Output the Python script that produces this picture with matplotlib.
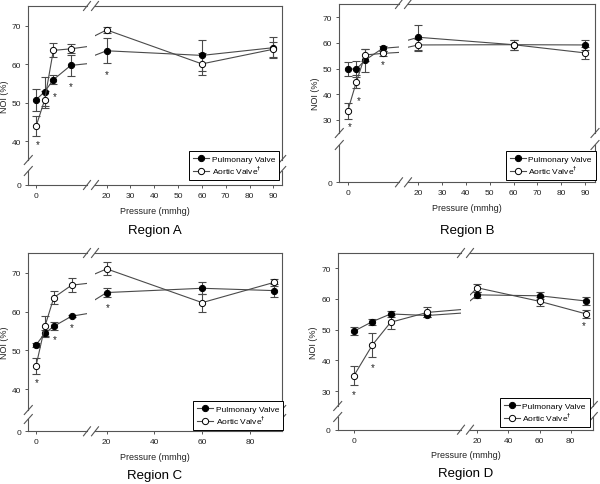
import matplotlib.pyplot as plt
from matplotlib.lines import Line2D

plt.rcParams['font.family'] = ['Liberation Sans', 'DejaVu Sans']

W, H = 600, 485

# pressures (mmHg), shared by all regions
pressure = [0, 1, 2, 4, 20, 60, 90]

# Region A
pulm_a = [50.8, 52.9, 56.0, 59.7, 63.5, 62.3, 64.3]
pulm_a_err = [2.9, 3.7, 1.2, 2.8, 3.2, 4.1, 2.8]
aort_a = [43.9, 50.8, 63.6, 64.0, 68.9, 60.1, 63.9]
aort_a_err = [2.6, 2.2, 1.8, 1.2, 0.8, 2.9, 2.0]
star_x_a = [0.2, 2.2, 4.0, 20.0]
star_y_a = [39.3, 51.8, 54.4, 57.5]

# Region B
pulm_b = [49.8, 49.8, 53.3, 57.9, 62.2, 59.3, 59.2]
pulm_b_err = [2.7, 3.3, 4.5, 1.0, 4.8, 2.0, 2.0]
aort_b = [33.4, 44.9, 55.3, 55.9, 59.2, 59.3, 56.1]
aort_b_err = [3.1, 2.7, 2.5, 1.0, 2.2, 2.0, 2.4]
star_x_b = [0.2, 1.3, 4.0]
star_y_b = [27.4, 37.8, 51.9]

# Region C
pulm_c = [51.4, 54.4, 56.2, 58.8, 64.9, 66.0, 65.4]
pulm_c_err = [0.6, 0.9, 1.0, 0.3, 1.1, 1.5, 1.7]
aort_c = [46.0, 56.2, 63.6, 66.8, 71.0, 62.3, 67.5]
aort_c_err = [2.0, 2.6, 1.6, 1.8, 1.7, 2.3, 1.0]
star_x_c = [0.1, 2.1, 4.0, 20.5]
star_y_c = [41.9, 52.9, 55.9, 61.1]

# Region D
pulm_d = [49.5, 52.6, 55.1, 54.6, 61.3, 61.0, 59.3]
pulm_d_err = [1.2, 1.0, 0.9, 0.6, 1.0, 1.2, 1.4]
aort_d = [35.1, 45.0, 52.4, 55.6, 63.6, 59.2, 55.1]
aort_d_err = [3.2, 4.0, 2.2, 1.6, 1.3, 1.4, 1.2]
star_x_d = [0.0, 1.0, 88.5]
star_y_d = [29.0, 38.0, 51.5]

LINE = '#4a4a4a'
SPINE = '#555555'

fig = plt.figure(figsize=(6, 4.85), dpi=100)


def px_rect(x0, x1, y0, y1):
    return [x0 / W, 1 - y1 / H, (x1 - x0) / W, (y1 - y0) / H]


def break_mark(xc, yc, dx=3.5, dy=4.5):
    fig.add_artist(Line2D([(xc - dx) / W, (xc + dx) / W],
                          [1 - (yc + dy) / H, 1 - (yc - dy) / H],
                          transform=fig.transFigure, color=SPINE, lw=0.8))


def draw_panel(frame, xgap, ygap, xlo, xhi, yhi, ylo, yticks, xticks,
               pulm, pulm_err, aort, aort_err, star_x, star_y,
               leg_xy, title, title_y):
    left, right, top, bottom = frame
    ax_tl = fig.add_axes(px_rect(left, xgap[0], top, ygap[0]))
    ax_tr = fig.add_axes(px_rect(xgap[1], right, top, ygap[0]))
    ax_bl = fig.add_axes(px_rect(left, xgap[0], ygap[1], bottom))
    ax_br = fig.add_axes(px_rect(xgap[1], right, ygap[1], bottom))

    for ax in (ax_tl, ax_tr, ax_bl, ax_br):
        ax.set_facecolor('none')
        for s in ax.spines.values():
            s.set_visible(False)
            s.set_color(SPINE)
            s.set_linewidth(0.8)
        ax.tick_params(length=2.5, width=0.7, color=SPINE, labelsize=6,
                       pad=2.5, labelcolor='#222222')
        ax.set_xticks([])
        ax.set_yticks([])

    ax_tl.spines['left'].set_visible(True)
    ax_tl.spines['top'].set_visible(True)
    ax_tr.spines['top'].set_visible(True)
    ax_tr.spines['right'].set_visible(True)
    ax_bl.spines['left'].set_visible(True)
    ax_bl.spines['bottom'].set_visible(True)
    ax_br.spines['bottom'].set_visible(True)
    ax_br.spines['right'].set_visible(True)

    for ax in (ax_tl, ax_bl):
        ax.set_xlim(*xlo)
    for ax in (ax_tr, ax_br):
        ax.set_xlim(*xhi)
    for ax in (ax_tl, ax_tr):
        ax.set_ylim(*yhi)
    for ax in (ax_bl, ax_br):
        ax.set_ylim(*ylo)

    ax_tl.set_yticks(yticks)
    ax_bl.set_yticks([0])
    ax_bl.set_xticks([0])
    ax_br.set_xticks(xticks)

    handles = []
    for ax in (ax_tl, ax_tr):
        ax.errorbar(pressure, pulm, yerr=pulm_err, fmt='none', ecolor=LINE,
                    elinewidth=0.8, capsize=3, capthick=0.8, zorder=2)
        ax.errorbar(pressure, aort, yerr=aort_err, fmt='none', ecolor=LINE,
                    elinewidth=0.8, capsize=3, capthick=0.8, zorder=2)
        hp, = ax.plot(pressure, pulm, '-o', color=LINE, lw=0.8, ms=4.5,
                      mfc='black', mec='black', mew=0.7, zorder=3)
        ha, = ax.plot(pressure, aort, '-o', color=LINE, lw=0.8, ms=4.5,
                      mfc='white', mec='black', mew=0.7, zorder=3)
        handles = [hp, ha]
        x0, x1 = ax.get_xlim()
        for sx, sy in zip(star_x, star_y):
            if x0 <= sx <= x1:
                ax.text(sx, sy, '*', ha='center', va='center', fontsize=7,
                        color='#222222')

    for xg in xgap:
        break_mark(xg, top)
        break_mark(xg, bottom)
    for yg in ygap:
        break_mark(left, yg, dx=4, dy=4.5)
        break_mark(right, yg, dx=4, dy=4.5)

    leg = fig.legend(handles, ['Pulmonary Valve', 'Aortic Valve$^{\\dagger}$'],
                     loc='upper left',
                     bbox_to_anchor=(leg_xy[0] / W, 1 - leg_xy[1] / H),
                     bbox_transform=fig.transFigure, fontsize=6, frameon=True,
                     fancybox=False, edgecolor='black', framealpha=1,
                     borderaxespad=0, borderpad=0.45, handlelength=2.0,
                     handletextpad=0.25, labelspacing=0.15)
    leg.get_frame().set_linewidth(0.7)

    cx = (left + right) / 2
    fig.text(cx / W, 1 - (bottom + 25) / H, 'Pressure (mmhg)', ha='center',
             va='center', fontsize=6.5, color='#222222')
    fig.text((left - 24) / W, 1 - ((top + bottom) / 2) / H, 'NOI (%)',
             rotation=90, ha='center', va='center', fontsize=6.5, color='#222222')
    fig.text(cx / W, 1 - title_y / H, title, ha='center',
             va='center', fontsize=9.5)


draw_panel((28.3, 281.7, 7, 186), (87, 95), (161, 172),
           (-0.89, 5.88), (15.1, 93.5), (35.2, 75.1), (0, 3.6),
           [40, 50, 60, 70], [20, 30, 40, 50, 60, 70, 80, 90],
           pulm_a, pulm_a_err, aort_a, aort_a_err, star_x_a, star_y_a,
           (189, 152), 'Region A', 231)

draw_panel((339.3, 595, 5, 183.3), (399, 408), (134, 146),
           (-0.96, 5.86), (15.7, 94.2), (24.8, 75.2), (0, 14.6),
           [30, 40, 50, 60, 70], [20, 30, 40, 50, 60, 70, 80, 90],
           pulm_b, pulm_b_err, aort_b, aort_b_err, star_x_b, star_y_b,
           (506, 152), 'Region B', 231)

draw_panel((28.3, 281.7, 254, 432.3), (87, 95), (411, 420),
           (-0.87, 5.73), (15.1, 93.3), (34.6, 75.1), (0, 3.2),
           [40, 50, 60, 70], [20, 40, 60, 80],
           pulm_c, pulm_c_err, aort_c, aort_c_err, star_x_c, star_y_c,
           (193, 402), 'Region C', 476)

draw_panel((337.7, 593.3, 254, 430.7), (461, 470), (407, 418),
           (-0.89, 5.84), (15.3, 94.5), (25.2, 74.9), (0, 4.1),
           [30, 40, 50, 60, 70], [20, 40, 60, 80],
           pulm_d, pulm_d_err, aort_d, aort_d_err, star_x_d, star_y_d,
           (500, 399), 'Region D', 474)

fig.savefig('out.png', dpi=100)
